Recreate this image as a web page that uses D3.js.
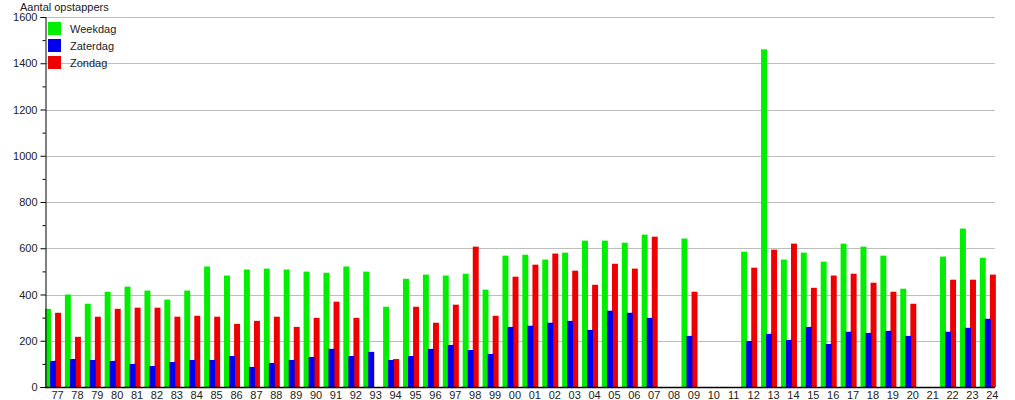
<!DOCTYPE html>
<html>
<head>
<meta charset="utf-8">
<script src="https://cdn.jsdelivr.net/npm/d3@7"></script>
<style>
  body { margin: 0; background: #fff; }
  svg { display: block; font-family: "Liberation Sans", Arial, sans-serif; }
</style>
</head>
<body>
<div id="d3"></div>
<script>
const years = ["77","78","79","80","81","82","83","84","85","86","87","88","89","90","91","92","93","94","95","96","97","98","99",
  "00","01","02","03","04","05","06","07","08","09","10","11","12","13","14","15","16","17","18","19","20","21","22","23","24"];

const weekdag = [338,400,360,412,434,417,378,417,521,482,508,512,508,499,494,521,499,347,468,486,482,490,421,
  568,572,551,581,633,633,624,659,0,642,0,0,585,1460,551,581,542,620,607,568,425,0,564,685,559];
const zaterdag = [113,121,117,113,100,91,108,117,117,134,87,104,117,130,165,134,152,117,134,165,182,160,143,
  260,265,278,286,247,330,321,299,0,221,0,0,199,230,204,260,186,239,234,243,221,0,239,256,295];
const zondag = [321,217,304,338,343,343,304,308,304,273,286,304,260,299,369,299,0,121,347,278,356,607,308,
  477,529,577,503,442,533,512,650,0,412,0,0,516,594,620,429,482,490,451,412,360,0,464,464,486];

const seriesNames = ["Weekdag", "Zaterdag", "Zondag"];
const seriesColors = ["#00ee00", "#0000ee", "#ee0000"];
const yTicks = [0, 200, 400, 600, 800, 1000, 1200, 1400, 1600];

const width = 1015, height = 400;
const margin = { top: 17, left: 45, bottom: 13 };

const svg = d3.select("#d3").append("svg")
  .attr("width", width).attr("height", height);

const x = d3.scaleBand().domain(years).range([margin.left, margin.left + 48 * 19.89]).padding(0);
const y = d3.scaleLinear().domain([0, 1600]).range([height - margin.bottom, margin.top]);

const sub = d3.scaleBand().domain(seriesNames).range([0, x.bandwidth() * 0.76]);
const plotRight = x(years[years.length - 1]) + x.bandwidth() * 0.76;

// gridlines
svg.append("g")
  .selectAll("line")
  .data(yTicks.filter(d => d > 0))
  .join("line")
  .attr("x1", margin.left).attr("x2", plotRight)
  .attr("y1", d => Math.round(y(d)) + 0.5).attr("y2", d => Math.round(y(d)) + 0.5)
  .attr("stroke", "#bdbdbd").attr("stroke-width", 1);

// bars
const rows = years.map((yr, i) => ({ yr, values: [weekdag[i], zaterdag[i], zondag[i]] }));
const drawOrder = [0, 2, 1];
const groups = svg.append("g").selectAll("g").data(rows).join("g")
  .attr("transform", d => `translate(${x(d.yr)},0)`);
groups.selectAll("rect")
  .data(d => drawOrder.map(k => ({ k, v: d.values[k] })).filter(e => e.v > 0))
  .join("rect")
  .attr("x", e => sub(seriesNames[e.k]))
  .attr("width", sub.bandwidth() + 0.9)
  .attr("y", e => y(e.v))
  .attr("height", e => y(0) - y(e.v))
  .attr("fill", e => seriesColors[e.k]);

// y axis
const yAxis = svg.append("g")
  .attr("transform", `translate(${margin.left + 0.5},0)`)
  .call(d3.axisLeft(y).tickValues(yTicks).tickSize(5).tickFormat(d3.format("d")));
yAxis.select(".domain").attr("stroke", "#000");
yAxis.selectAll(".tick text").attr("font-size", 11).attr("fill", "#222")
  .attr("font-family", "Liberation Sans, Arial, sans-serif").attr("x", -8);
svg.append("g")
  .attr("transform", `translate(${margin.left + 0.5},0)`)
  .call(d3.axisLeft(y).tickValues(d3.range(100, 1600, 200)).tickSize(3).tickFormat(""))
  .select(".domain").remove();

// x axis
const xAxis = svg.append("g")
  .attr("transform", `translate(0,${Math.round(y(0)) + 0.5})`)
  .call(d3.axisBottom(x).tickSize(0).tickPadding(4));
xAxis.select(".domain").attr("d", `M${margin.left},0H${plotRight}`).attr("stroke", "#000").attr("stroke-width", 1.5);
xAxis.selectAll(".tick").attr("transform", d => `translate(${x(d) + 12.5},0)`);
xAxis.selectAll(".tick text").attr("font-size", 11).attr("fill", "#222")
  .attr("font-family", "Liberation Sans, Arial, sans-serif");

// title
svg.append("text")
  .attr("x", 20).attr("y", 11)
  .attr("font-size", 11).attr("fill", "#222")
  .text("Aantal opstappers");

// legend
const legend = svg.append("g").attr("transform", "translate(48,22)");
const item = legend.selectAll("g").data(seriesNames).join("g")
  .attr("transform", (d, i) => `translate(0,${i * 17})`);
item.append("rect").attr("width", 13).attr("height", 13)
  .attr("fill", (d, i) => seriesColors[i]);
item.append("text").attr("x", 22).attr("y", 11)
  .attr("font-size", 11).attr("fill", "#222").text(d => d);
</script>
</body>
</html>
